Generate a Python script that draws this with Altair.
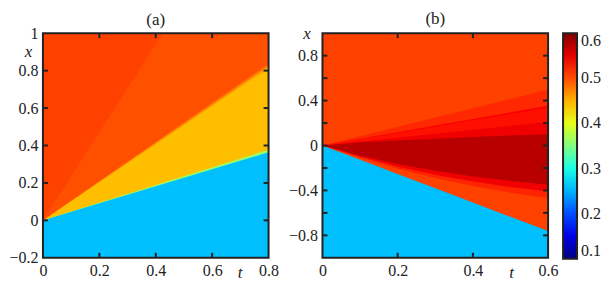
import altair as alt
import pandas as pd

SERIF = "Liberation Serif"

# ---- colour scale (jet, 0.1 .. 0.6) ----
JET_STOPS = [0.1, 0.1625, 0.225, 0.2875, 0.35, 0.4125, 0.475, 0.5375, 0.6]
JET_COLORS = ["#000080", "#0000ff", "#0080ff", "#00ffff", "#80ff80",
              "#ffff00", "#ff8000", "#ff0000", "#800000"]
LEGEND_VALUES = [0.1, 0.2, 0.3, 0.4, 0.5, 0.6]

# ---- panel (a): regions bounded below by lines x(t) ----
A_T = [0.0, 0.8]
A_REGIONS = ["blue", "front", "yellow", "blend1", "blend2", "fan", "top"]
A_VALUES = [0.256, 0.36, 0.444, 0.458, 0.48, 0.4984, 0.506]
A_LOWER = [
    [-3.0, -3.0],
    [0.0, 0.364],
    [0.0, 0.377],
    [0.0, 0.812],
    [0.0, 0.824],
    [0.0, 0.836],
    [0.0, 1.88],
]
A_XTICKS = [0.2, 0.4, 0.6]
A_YTICKS = [0.0, 0.2, 0.4, 0.6, 0.8]
A_XLABELS = [0, 0.2, 0.4, 0.6, 0.8]
A_YLABELS = [-0.2, 0, 0.2, 0.4, 0.6, 0.8, 1]

# ---- panel (b) ----
B_T = [0.0, 0.1, 0.2, 0.3, 0.4, 0.5, 0.6]
B_REGIONS = ["blue", "orange", "band1", "band2", "core", "bright", "red", "line", "light", "otop"]
B_VALUES = [0.256, 0.506, 0.52, 0.545, 0.5725, 0.545, 0.53, 0.54, 0.518, 0.506]
B_LOWER = [
    [-3.0, -3.0, -3.0, -3.0, -3.0, -3.0, -3.0],
    [0.0, -0.127, -0.254, -0.381, -0.508, -0.635, -0.762],
    [0.0, -0.11, -0.21, -0.29, -0.36, -0.42, -0.47],
    [0.0, -0.10, -0.19, -0.26, -0.32, -0.37, -0.41],
    [0.0, -0.09, -0.165, -0.225, -0.275, -0.315, -0.35],
    [0.0, 0.028, 0.045, 0.06, 0.075, 0.09, 0.10],
    [0.0, 0.035, 0.07, 0.105, 0.14, 0.175, 0.21],
    [0.0, 0.056, 0.112, 0.168, 0.224, 0.28, 0.336],
    [0.0, 0.059, 0.118, 0.177, 0.236, 0.295, 0.354],
    [0.0, 0.083, 0.166, 0.249, 0.332, 0.415, 0.498],
]
B_XTICKS = [0.2, 0.4]
B_YTICKS = [-0.8, -0.6, -0.4, -0.2, 0.0, 0.2, 0.4, 0.6, 0.8]
B_XLABELS = [0, 0.2, 0.4, 0.6]
B_YLABELS = [-0.8, -0.4, 0, 0.4, 0.8]

W, H = 226, 225
TICK_PX = 5

color_scale = alt.Scale(domain=JET_STOPS, range=JET_COLORS, interpolate="rgb")
legend = alt.Legend(values=LEGEND_VALUES, title=None, gradientLength=226,
                    gradientThickness=14, gradientStrokeColor="#222",
                    gradientStrokeWidth=2, labelOverlap=False, offset=5,
                    labelFont=SERIF, labelFontSize=16, labelColor="#222",
                    format=".1f", labelOffset=4, padding=0)


def panel(T, names, values, lowers, xdom, ydom, xticks, yticks, xlabels, ylabels,
          title, xtitle_pos, ytitle_pos):
    xs = alt.Scale(domain=xdom, nice=False, zero=False)
    ys = alt.Scale(domain=ydom, nice=False, zero=False)
    xaxis = alt.Axis(values=xlabels, ticks=False, domain=False, grid=False,
                     labelPadding=5, format="~g", title="t", titleFontStyle="italic",
                     titleFontWeight="normal", titleX=xtitle_pos[0], titleY=xtitle_pos[1],
                     titleBaseline="middle", titleAlign="center", labelFlush=False,
                     labelOverlap=False)
    yaxis = alt.Axis(values=ylabels, ticks=False, domain=False, grid=False,
                     labelPadding=5, format="~g", title="x", titleFontStyle="italic",
                     titleFontWeight="normal", titleAngle=0, titleX=ytitle_pos[0],
                     titleY=ytitle_pos[1], titleBaseline="middle", titleAlign="center",
                     labelFlush=False, labelOverlap=False)

    def X(f):
        return alt.X(f, scale=xs, axis=xaxis)

    def Y(f):
        return alt.Y(f, scale=ys, axis=yaxis)

    def XD(v):
        return alt.XDatum(v, scale=xs, axis=xaxis)

    def YD(v):
        return alt.YDatum(v, scale=ys, axis=yaxis)

    layers = []
    for name, v, low in zip(names, values, lowers):
        df = pd.DataFrame({"t": T, "lo": low, "hi": [5.0] * len(T), "v": [v] * len(T)})
        layers.append(
            alt.Chart(df).mark_area(clip=True, interpolate="linear").encode(
                x=X("t:Q"), y=Y("lo:Q"), y2="hi:Q",
                color=alt.Color("v:Q", scale=color_scale, legend=legend),
            )
        )
    dy = TICK_PX * (ydom[1] - ydom[0]) / H
    dx = TICK_PX * (xdom[1] - xdom[0]) / W
    xt = pd.DataFrame({"p": xticks})
    yt = pd.DataFrame({"p": yticks})
    rule = dict(color="#222", strokeWidth=2)
    layers += [
        alt.Chart(xt).mark_rule(**rule).encode(x=X("p:Q"), y=YD(ydom[0]), y2=alt.datum(ydom[0] + dy)),
        alt.Chart(xt).mark_rule(**rule).encode(x=X("p:Q"), y=YD(ydom[1]), y2=alt.datum(ydom[1] - dy)),
        alt.Chart(yt).mark_rule(**rule).encode(y=Y("p:Q"), x=XD(xdom[0]), x2=alt.datum(xdom[0] + dx)),
        alt.Chart(yt).mark_rule(**rule).encode(y=Y("p:Q"), x=XD(xdom[1]), x2=alt.datum(xdom[1] - dx)),
        alt.Chart(pd.DataFrame({"k": [0]})).mark_rect(fillOpacity=0, stroke="#222", strokeWidth=2).encode(
            x=XD(xdom[0]), x2=alt.datum(xdom[1]), y=YD(ydom[0]), y2=alt.datum(ydom[1])),
    ]
    return alt.layer(*layers).properties(
        width=W, height=H,
        title=alt.TitleParams(title, font=SERIF, fontSize=17, fontWeight="normal",
                              offset=-4, color="#222"))


pa = panel(A_T, A_REGIONS, A_VALUES, A_LOWER, [0, 0.8], [-0.2, 1.0], A_XTICKS, A_YTICKS,
           A_XLABELS, A_YLABELS, "(a)", (197, 15), (-15, 18))
pb = panel(B_T, B_REGIONS, B_VALUES, B_LOWER, [0, 0.6], [-1.0, 1.0], B_XTICKS, B_YTICKS,
           B_XLABELS, B_YLABELS, "(b)", (189, 15), (-16, 0))

chart = alt.hconcat(pa, pb, spacing=9).properties(
    padding={"left": 0, "top": 2, "right": 0, "bottom": 0}
).configure_view(stroke=None).configure_axis(
    labelFont=SERIF, labelFontSize=16, labelColor="#222", titleFont=SERIF,
    titleFontSize=17, titleColor="#222", labelOverlap=False
)

chart.save("out.html", embed_options={"renderer": "svg", "actions": False})
